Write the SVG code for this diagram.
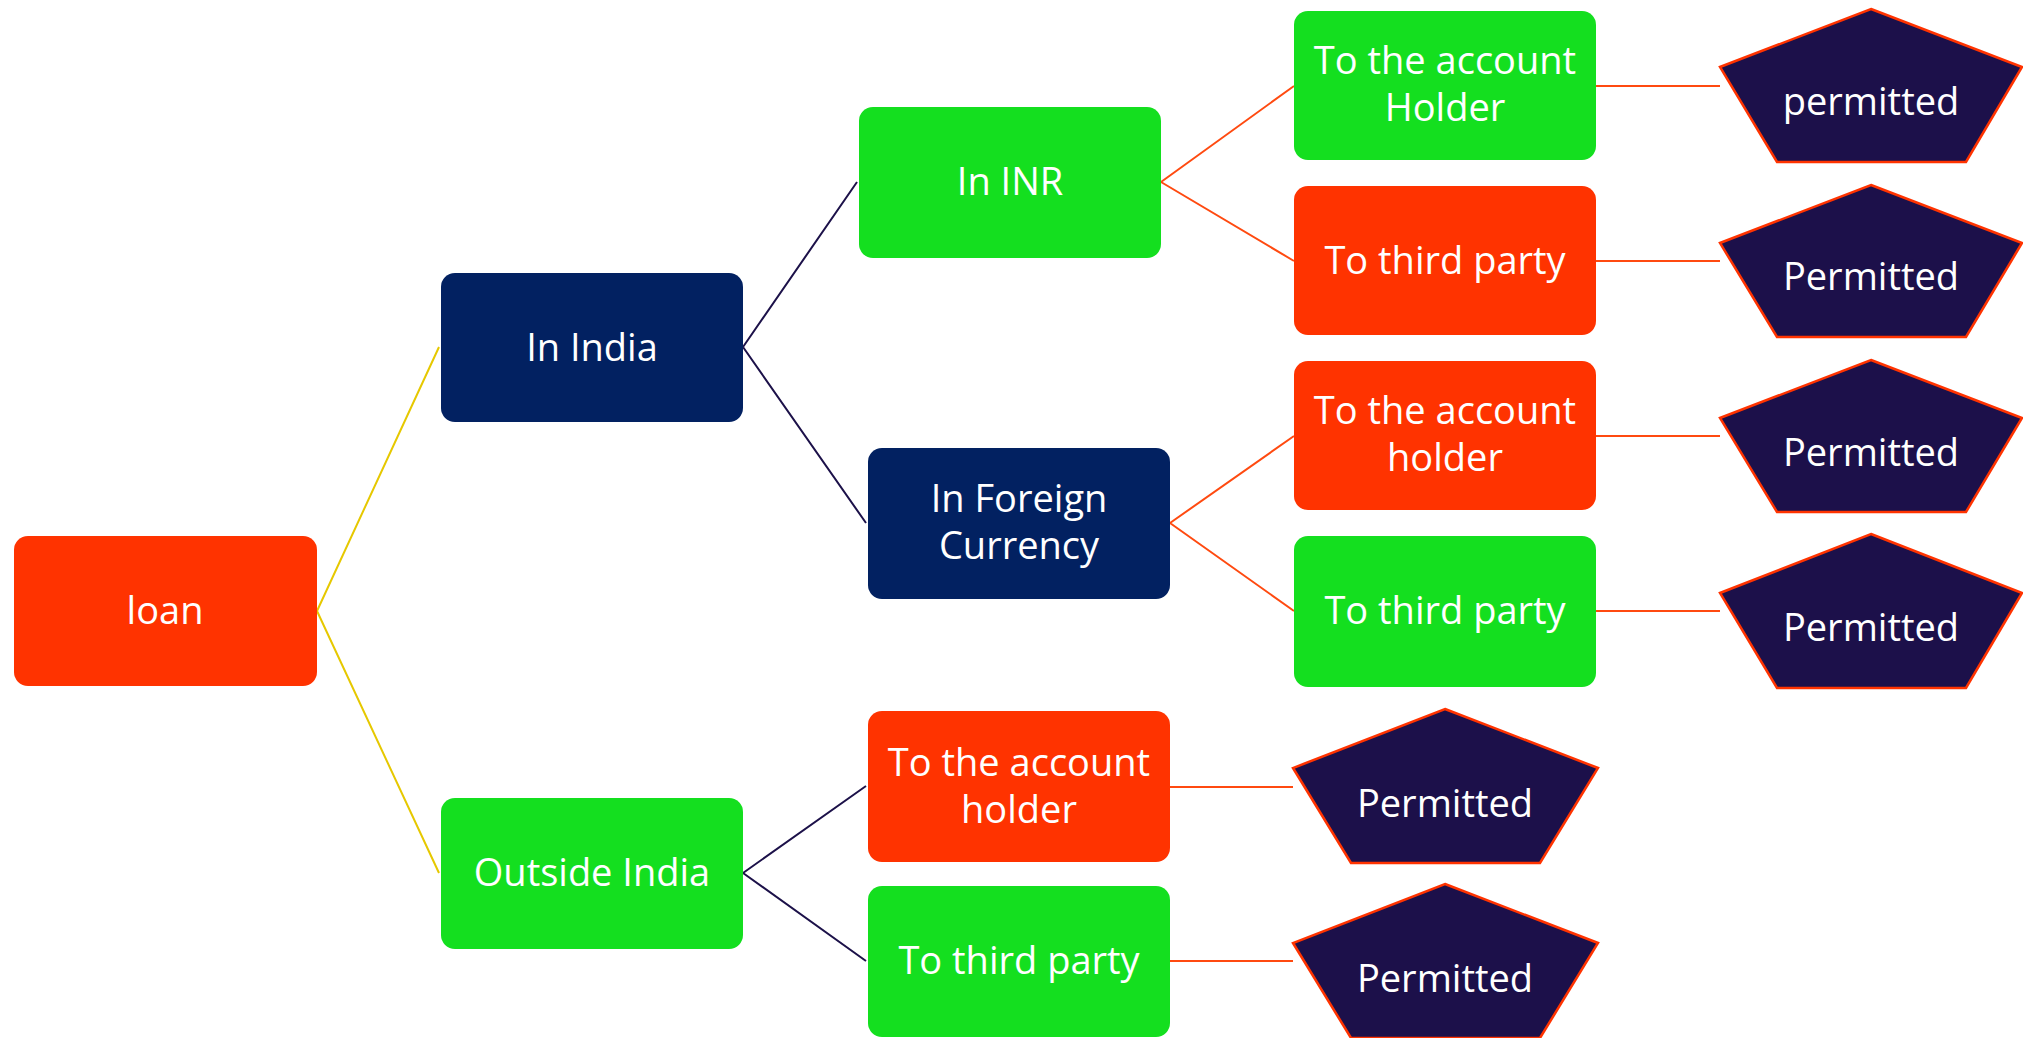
<svg xmlns="http://www.w3.org/2000/svg" width="2023" height="1038" viewBox="0 0 2023 1038">
<style>
  .box { stroke: none; }
  .red { fill: #FF3300; }
  .green { fill: #14DF1F; }
  .blue { fill: #022161; }
  .pent { fill: #1C104A; stroke: #FF3300; stroke-width: 2.5; stroke-linejoin: miter; }
  .t { font-family: "Open Sans", "Noto Sans", sans-serif; font-size: 38px; fill: #ffffff; text-anchor: middle; }
  .cy { stroke: #E6C800; stroke-width: 2; fill: none; }
  .cn { stroke: #1C1149; stroke-width: 2; fill: none; }
  .co { stroke: #FF4A10; stroke-width: 2; fill: none; }
</style>
<rect width="2023" height="1038" fill="#ffffff"/>
<g id="connectors">
  <path class="cy" d="M317,611 L439,347 M317,611 L439,873"/>
  <path class="cn" d="M743,347 L857,182 M743,347 L866,523 M743,873 L866,786 M743,873 L866,961"/>
  <path class="co" d="M1161,182 L1294,86 M1161,182 L1294,261 M1170,523 L1294,436 M1170,523 L1294,611"/>
  <path class="co" d="M1596,86 L1720,86 M1596,261 L1720,261 M1596,436 L1720,436 M1596,611 L1720,611 M1170,787 L1293,787 M1170,961 L1293,961"/>
</g>
<g id="n-loan">
  <rect class="box red" x="14" y="536" width="303" height="150" rx="14"/>
  <text class="t" x="165" y="624">loan</text>
</g>
<g id="n-inindia">
  <rect class="box blue" x="441" y="273" width="302" height="149" rx="14"/>
  <text class="t" x="592" y="361">In India</text>
</g>
<g id="n-outside">
  <rect class="box green" x="441" y="798" width="302" height="151" rx="14"/>
  <text class="t" x="592" y="886">Outside India</text>
</g>
<g id="n-inr">
  <rect class="box green" x="859" y="107" width="302" height="151" rx="14"/>
  <text class="t" x="1010" y="195">In INR</text>
</g>
<g id="n-foreign">
  <rect class="box blue" x="868" y="448" width="302" height="151" rx="14"/>
  <text class="t" x="1019" y="512">In Foreign</text>
  <text class="t" x="1019" y="559">Currency</text>
</g>
<g id="n-r1">
  <rect class="box green" x="1294" y="11" width="302" height="149" rx="14"/>
  <text class="t" x="1445" y="74">To the account</text>
  <text class="t" x="1445" y="121">Holder</text>
</g>
<g id="n-r2">
  <rect class="box red" x="1294" y="186" width="302" height="149" rx="14"/>
  <text class="t" x="1445" y="274">To third party</text>
</g>
<g id="n-r3">
  <rect class="box red" x="1294" y="361" width="302" height="149" rx="14"/>
  <text class="t" x="1445" y="424">To the account</text>
  <text class="t" x="1445" y="471">holder</text>
</g>
<g id="n-r4">
  <rect class="box green" x="1294" y="536" width="302" height="151" rx="14"/>
  <text class="t" x="1445" y="624">To third party</text>
</g>
<g id="n-b1">
  <rect class="box red" x="868" y="711" width="302" height="151" rx="14"/>
  <text class="t" x="1019" y="776">To the account</text>
  <text class="t" x="1019" y="823">holder</text>
</g>
<g id="n-b2">
  <rect class="box green" x="868" y="886" width="302" height="151" rx="14"/>
  <text class="t" x="1019" y="974">To third party</text>
</g>
<g id="p-r1">
  <polygon class="pent" points="1871,9 2022,67 1966,162 1777,162 1720,67"/>
  <text class="t" x="1871" y="115">permitted</text>
</g>
<g id="p-r2">
  <polygon class="pent" points="1871,185 2022,243 1966,337 1777,337 1720,243"/>
  <text class="t" x="1871" y="290">Permitted</text>
</g>
<g id="p-r3">
  <polygon class="pent" points="1871,360 2022,418 1966,512 1777,512 1720,418"/>
  <text class="t" x="1871" y="466">Permitted</text>
</g>
<g id="p-r4">
  <polygon class="pent" points="1871,534 2022,593 1966,688 1777,688 1720,593"/>
  <text class="t" x="1871" y="641">Permitted</text>
</g>
<g id="p-b1">
  <polygon class="pent" points="1445,709 1598,768 1540,863 1351,863 1293,768"/>
  <text class="t" x="1445" y="817">Permitted</text>
</g>
<g id="p-b2">
  <polygon class="pent" points="1445,884 1598,943 1540,1038 1351,1038 1293,943"/>
  <text class="t" x="1445" y="992">Permitted</text>
</g>
</svg>
